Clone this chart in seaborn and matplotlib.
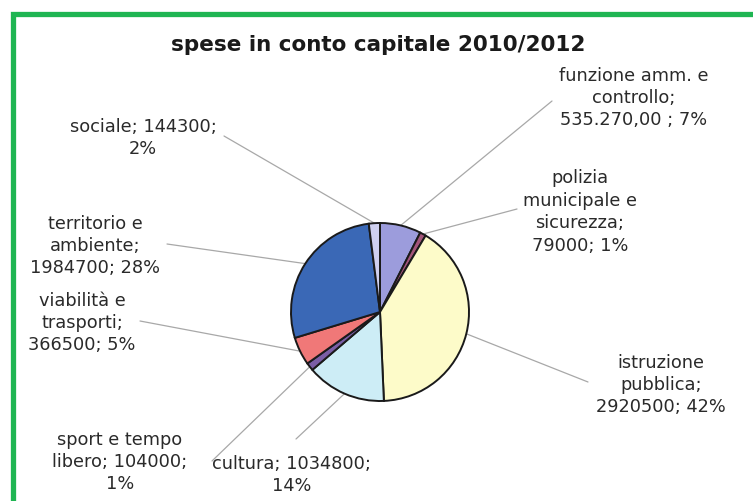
import numpy as np
import matplotlib
matplotlib.use("Agg")
import matplotlib.pyplot as plt
import seaborn as sns
from matplotlib.patches import Rectangle

# ---- data ----
categories = ["funzione amm. e\ncontrollo;\n535.270,00 ; 7%",
              "polizia\nmunicipale e\nsicurezza;\n79000; 1%",
              "istruzione\npubblica;\n2920500; 42%",
              "cultura; 1034800;\n14%",
              "sport e tempo\nlibero; 104000;\n1%",
              "viabilità e\ntrasporti;\n366500; 5%",
              "territorio e\nambiente;\n1984700; 28%",
              "sociale; 144300;\n2%"]
values = [535270, 79000, 2920500, 1034800, 104000, 366500, 1984700, 144300]
colors = ["#9c9cdc", "#a3547a", "#fdfbc9", "#cdedf6", "#7a5ea6", "#f07878", "#3a68b6", "#cfd0f0"]
title = "spese in conto capitale 2010/2012"

# label layout (pixel positions of text anchors, centre of text block)
label_pos = [(634, 98), (580, 212), (661, 385), (292, 475), (120, 462), (82, 323), (95, 246), (143, 138)]
line_end = [(552, 102), (517, 210), (588, 383), (296, 440), (212, 462), (140, 322), (167, 245), (224, 137)]

sns.set_theme(style="white")
plt.rcParams['font.family'] = ['DejaVu Sans']

W, H = 753, 502
fig = plt.figure(figsize=(W / 100, H / 100), dpi=100)
ax = fig.add_axes([0, 0, 1, 1])

# green frame
fig.patches.append(Rectangle((12.5 / W, -0.1), 1.2, (H - 14.5) / H + 0.1,
                             transform=fig.transFigure, fill=False,
                             edgecolor="#1fb552", linewidth=3.8, zorder=0))

cx, cy, r = 380, 313, 89
# y axis is inverted below: start at -90 (top) and go counterclock in data = clockwise on screen
wedges, _ = ax.pie(values, colors=colors, startangle=-90, counterclock=True,
                   center=(cx, cy), radius=r, frame=True,
                   wedgeprops=dict(edgecolor="#1a1a1a", linewidth=1.4))
ax.set_xlim(0, W)
ax.set_ylim(H, 0)
ax.set_aspect("equal")
ax.axis("off")

vals = np.array(values, dtype=float)
cum = np.cumsum(vals) / vals.sum()
mid = cum - vals / vals.sum() / 2
for i, (lab, pos, le) in enumerate(zip(categories, label_pos, line_end)):
    ang = 2 * np.pi * mid[i]
    ex = cx + r * np.sin(ang)
    ey = cy - r * np.cos(ang)
    ax.text(pos[0], pos[1], lab, ha="center", va="center", fontsize=12.8,
            color="#2a2a2a", linespacing=1.32)
    ax.plot([ex, le[0]], [ey, le[1]], color="#a8a8a8", linewidth=0.9, zorder=0.5)

ax.text(378, 45, title, ha="center", va="center", fontsize=15.5,
        fontweight="bold", color="#1a1a1a")

fig.savefig("out.png", dpi=100, facecolor="white")
